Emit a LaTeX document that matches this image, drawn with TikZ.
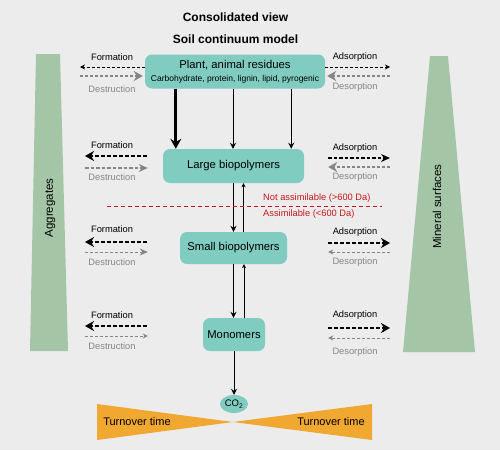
\documentclass[tikz,border=0pt]{standalone}
\usepackage{fontspec}
\setmainfont{Liberation Sans}
\usetikzlibrary{arrows.meta,shapes.geometric}
\definecolor{bgcol}{HTML}{ECECEC}
\definecolor{boxcol}{HTML}{80CCC0}
\definecolor{barcol}{HTML}{A5C6A6}
\definecolor{turncol}{HTML}{F0A830}
\definecolor{redcol}{HTML}{C8161D}
\definecolor{grycol}{HTML}{858585}

\begin{document}
\begin{tikzpicture}[x=1pt, y=-1pt,
	box/.style={fill=boxcol, rounded corners=7pt, align=center, inner sep=0pt,
		font=\fontsize{11.3}{13}\selectfont},
	ttl/.style={font=\bfseries\fontsize{12}{14}\selectfont},
	lbl/.style={font=\fontsize{9.3}{11}\selectfont, inner sep=0pt},
	glbl/.style={lbl, text=grycol},
	rlbl/.style={font=\fontsize{9.3}{11}\selectfont, text=redcol, inner sep=0pt, anchor=west},
	barlbl/.style={font=\fontsize{11.5}{13}\selectfont, rotate=90},
	turnlbl/.style={font=\fontsize{11}{13}\selectfont},
	thinblk/.style={black, line width=0.8pt, dash pattern=on 3pt off 2pt,
		-{Stealth[length=5pt,width=5pt]}},
	medblk/.style={black, line width=1.3pt, dash pattern=on 3.5pt off 2pt,
		-{Stealth[length=9pt,width=8pt]}},
	thickblk/.style={black, line width=2.6pt, dash pattern=on 4pt off 2pt,
		-{Stealth[length=9pt,width=10pt]}},
	thickgry/.style={grycol, line width=2.6pt, dash pattern=on 3pt off 2pt,
		-{Stealth[length=9pt,width=10pt]}},
	medgry/.style={grycol, line width=1.3pt, dash pattern=on 3.5pt off 2pt,
		-{Stealth[length=9pt,width=8pt]}},
	thingry/.style={grycol, line width=0.8pt, dash pattern=on 3pt off 2pt,
		-{Stealth[length=5pt,width=5pt]}},
	thingrybig/.style={thingry, -{Stealth[length=8pt,width=7pt]}},
	vthick/.style={line width=2.8pt, -{Stealth[length=10pt,width=11pt]}},
	vthin/.style={line width=0.9pt, -{Stealth[length=6pt,width=6pt]}},
	vup/.style={line width=0.9pt, -{Stealth[length=4pt,width=4pt]}}]

	\fill[bgcol] (0,0) rectangle (500,450);
	\useasboundingbox (0,0) rectangle (500,450);

	\node[ttl] (t1) at (235.5,17) {Consolidated view};
	\node[ttl] (t2) at (235.5,39) {Soil continuum model};

	\fill[barcol] (36,54) -- (60,54) -- (68,351) -- (30,351) -- cycle;
	\node[barlbl] (aggr) at (50,208) {Aggregates};
	\fill[barcol] (430,56) -- (448,56) -- (475,352) -- (403,352) -- cycle;
	\node[barlbl] (mins) at (437,206.5) {Mineral surfaces};

	\fill[turncol] (97,404) -- (233,422) -- (97,440) -- cycle;
	\fill[turncol] (372,404) -- (233,422) -- (372,440) -- cycle;
	\node[turnlbl] (turnl) at (137,422) {Turnover time};
	\node[turnlbl] (turnr) at (331,422) {Turnover time};

	\node[box, minimum width=180pt, minimum height=34pt] (plant) at (235,71.5)
		{Plant, animal residues\\[0pt]{\fontsize{8.5}{10}\selectfont Carbohydrate, protein, lignin, lipid, pyrogenic}};
	\node[box, minimum width=141pt, minimum height=34pt] (large) at (233.5,166) {Large biopolymers};
	\node[box, minimum width=107pt, minimum height=32pt] (small) at (233.5,248) {Small biopolymers};
	\node[box, minimum width=62pt, minimum height=33pt] (mono) at (234,334.5) {Monomers};
	\node[ellipse, fill=boxcol, inner sep=0pt, minimum width=28pt, minimum height=18pt,
		font=\fontsize{9.5}{11}\selectfont] (co2) at (234,404) {CO\textsubscript{2}};

	\draw[vthick] ([xshift=31pt]plant.south west) -- ([xshift=31pt]plant.south west |- large.north);
	\draw[vthin] ([xshift=-2pt]plant.south) -- ([xshift=-2pt]plant.south |- large.north);
	\draw[vthin] ([xshift=-34pt]plant.south east) -- ([xshift=-34pt]plant.south east |- large.north);
	\draw[vthin] (large.south) -- (small.north);
	\draw[vup] ([xshift=10pt]small.north) -- ([xshift=10pt]large.south);
	\draw[vthin] (small.south) -- (small.south |- mono.north);
	\draw[vup] ([xshift=10pt]mono.north) -- ([xshift=10pt]mono.north |- small.south);
	\draw[vthin] (mono.south) -- (co2.north);

	\coordinate (cutl) at (107,206); \coordinate (cutr) at (382,206);
	\draw[redcol, line width=0.7pt, dash pattern=on 4pt off 3pt] (cutl) -- (cutr);
	\node[rlbl] (nass) at (263,198) {Not assimilable (>600 Da)};
	\node[rlbl] (ass) at (263,214) {Assimilable (<600 Da)};

	\node[lbl] (f1) at (112,57) {Formation}; \node[glbl] (d1) at (112,89) {Destruction};
	\coordinate (fa1) at (80,67); \coordinate (da1) at (80,76);
	\draw[thinblk] (plant.west |- fa1) -- (fa1);
	\draw[thickgry] (da1) -- ([xshift=-2pt]plant.west |- da1);

	\node[lbl] (f2) at (112,145) {Formation}; \node[glbl] (d2) at (112,177) {Destruction};
	\coordinate (fa2) at (85,156); \coordinate (da2) at (85,168);
	\draw[thickblk] ([xshift=-16pt]large.west |- fa2) -- (fa2);
	\draw[medgry] (da2) -- ([xshift=-15pt]large.west |- da2);

	\node[lbl] (f3) at (112,229) {Formation}; \node[glbl] (d3) at (112,262) {Destruction};
	\coordinate (fa3) at (85,242); \coordinate (da3) at (85,252);
	\draw[thickblk] ([xshift=-33pt]small.west |- fa3) -- (fa3);
	\draw[thingrybig] (da3) -- ([xshift=-32pt]small.west |- da3);

	\node[lbl] (f4) at (112,315) {Formation}; \node[glbl] (d4) at (112,346) {Destruction};
	\coordinate (fa4) at (85,326); \coordinate (da4) at (85,336);
	\draw[thickblk] ([xshift=-56pt]mono.west |- fa4) -- (fa4);
	\draw[thingry] (da4) -- ([xshift=-55pt]mono.west |- da4);

	\node[lbl] (a1) at (355,57) {Adsorption}; \node[glbl] (s1) at (355,87) {Desorption};
	\coordinate (aa1) at (390,67); \coordinate (sa1) at (390,76);
	\draw[thinblk] (plant.east |- aa1) -- (aa1);
	\draw[thickgry] (sa1) -- ([xshift=2pt]plant.east |- sa1);

	\node[lbl] (a2) at (355,148) {Adsorption}; \node[glbl] (s2) at (355,177) {Desorption};
	\coordinate (aa2) at (390,158); \coordinate (sa2) at (390,167);
	\draw[medblk] ([xshift=24pt]large.east |- aa2) -- (aa2);
	\draw[thickgry] (sa2) -- ([xshift=24pt]large.east |- sa2);

	\node[lbl] (a3) at (355,232) {Adsorption}; \node[glbl] (s3) at (355,262) {Desorption};
	\coordinate (aa3) at (390,243); \coordinate (sa3) at (390,252);
	\draw[thickblk] ([xshift=41pt]small.east |- aa3) -- (aa3);
	\draw[thingry] (sa3) -- ([xshift=41pt]small.east |- sa3);

	\node[lbl] (a4) at (355,315) {Adsorption}; \node[glbl] (s4) at (355,352) {Desorption};
	\coordinate (aa4) at (390,328); \coordinate (sa4) at (390,338);
	\draw[thickblk] ([xshift=63pt]mono.east |- aa4) -- (aa4);
	\draw[thingry] (sa4) -- ([xshift=63pt]mono.east |- sa4);
\end{tikzpicture}
\end{document}
